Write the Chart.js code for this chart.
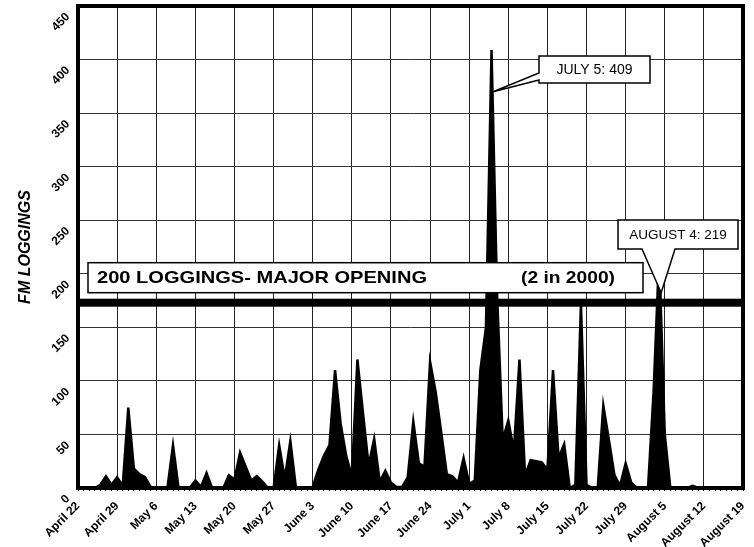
<!DOCTYPE html>
<html><head><meta charset="utf-8">
<script src="https://cdn.jsdelivr.net/npm/chart.js@4.4.1/dist/chart.umd.min.js"></script>
<style>html,body{margin:0;padding:0;background:#fff}#wrap{width:754px;height:547px}</style>
</head><body><div id="wrap"><canvas id="c" width="754" height="547"></canvas></div>
<script>
// Daily FM loggings, April 22 .. August 19, 2000 (120 days)
const START_DATE = [2000, 3, 22];
const loggings = [
  0, 0, 0, 0, 3, 11, 3, 10, 2, 75,          // Apr 22 - May 1
  18, 13, 10, 1, 0, 0, 0, 40, 0, 0,         // May 2 - May 11
  0, 7, 1, 14, 0, 0, 0, 12, 8, 33,          // May 12 - May 21
  20, 7, 11, 6, 0, 0, 40, 9, 44, 0,         // May 22 - May 31
  0, 0, 1, 17, 30, 40, 110, 60, 30, 11,     // Jun 1 - Jun 10
  120, 70, 21, 46, 6, 16, 5, 1, 1, 10,      // Jun 11 - Jun 20
  62, 23, 20, 118, 90, 52, 13, 11, 5, 28,   // Jun 21 - Jun 30
  4, 7, 110, 150, 409, 180, 45, 63, 35, 120,// Jul 1 - Jul 10
  12, 26, 25, 24, 17, 110, 28, 41, 0, 3,    // Jul 11 - Jul 20
  172, 3, 0, 0, 77, 45, 12, 2, 23, 5,       // Jul 21 - Jul 30
  0, 0, 0, 90, 219, 50, 0, 0, 0, 0,         // Jul 31 - Aug 9
  2, 0, 0, 0, 0, 0, 0, 0, 0, 0              // Aug 10 - Aug 19
];
const tickLabels = ['April 22','April 29','May 6','May 13','May 20','May 27','June 3','June 10',
  'June 17','June 24','July 1','July 8','July 15','July 22','July 29','August 5','August 12','August 19'];
const yMin = 0, yMax = 450, yStep = 50;
const MAJOR_LEVEL = 173;
const majorText = '200 LOGGINGS- MAJOR OPENING';
const majorCount = '(2 in 2000)';
const peakJuly = { day: 74, tipValue: 370, text: 'JULY 5: 409' };
const peakAug = { day: 104, text: 'AUGUST 4: 219' };

const SANS = "'Liberation Sans', Arial, sans-serif";

const categories = loggings.map((_, i) => {
  const d = new Date(START_DATE[0], START_DATE[1], START_DATE[2] + i);
  return d.toDateString();
});

function stretchText(ctx, text, x, y, targetW, align) {
  const w = ctx.measureText(text).width;
  const sx = targetW / w;
  ctx.save();
  ctx.textAlign = 'left';
  ctx.translate(align === 'right' ? x - targetW : x, y);
  ctx.scale(sx, 1);
  ctx.fillText(text, 0, 0);
  ctx.restore();
}

const overlay = {
  id: 'overlay',
  afterDatasetsDraw(chart) {
    const { ctx, chartArea: a, scales: { x, y } } = chart;
    ctx.save();
    // thick major-opening line
    const ly = y.getPixelForValue(MAJOR_LEVEL);
    ctx.fillStyle = '#000';
    ctx.fillRect(a.left, ly - 4, a.right - a.left, 8);

    // major opening label box
    const bx0 = a.left + 10, bx1 = 643, by1 = ly - 10, by0 = by1 - 30;
    ctx.fillStyle = '#fff';
    ctx.fillRect(bx0, by0, bx1 - bx0, by1 - by0);
    ctx.lineWidth = 1.5; ctx.strokeStyle = '#000';
    ctx.strokeRect(bx0, by0, bx1 - bx0, by1 - by0);
    ctx.fillStyle = '#000';
    ctx.font = "bold 17px " + SANS;
    ctx.textBaseline = 'middle';
    stretchText(ctx, majorText, bx0 + 9, (by0 + by1) / 2 + 1, 330, 'left');
    stretchText(ctx, majorCount, bx1 - 28, (by0 + by1) / 2 + 1, 94, 'right');

    // July 5 callout
    const jx = x.getPixelForValue(peakJuly.day) + 1.5, jy = y.getPixelForValue(peakJuly.tipValue);
    const c0 = 539, c1 = 650, t0 = 56, t1 = 83;
    ctx.beginPath();
    ctx.moveTo(c0, t0); ctx.lineTo(c1, t0); ctx.lineTo(c1, t1); ctx.lineTo(c0, t1);
    ctx.lineTo(c0, t1 - 3); ctx.lineTo(jx, jy); ctx.lineTo(c0, t1 - 10); ctx.closePath();
    ctx.fillStyle = '#fff'; ctx.fill();
    ctx.lineWidth = 1.5; ctx.stroke();
    ctx.fillStyle = '#000';
    ctx.font = "14px " + SANS;
    ctx.textAlign = 'center';
    ctx.fillText(peakJuly.text, (c0 + c1) / 2, (t0 + t1) / 2 + 1);

    // August 4 callout
    const ax = x.getPixelForValue(peakAug.day) + 2, ay = ly - 10;
    const d0 = 618, d1 = 738, u0 = 220, u1 = 249;
    ctx.beginPath();
    ctx.moveTo(d0, u0); ctx.lineTo(d1, u0); ctx.lineTo(d1, u1); ctx.lineTo(675, u1);
    ctx.lineTo(ax, ay); ctx.lineTo(642, u1); ctx.lineTo(d0, u1); ctx.closePath();
    ctx.fillStyle = '#fff'; ctx.fill();
    ctx.lineWidth = 1.5; ctx.stroke();
    ctx.fillStyle = '#000';
    ctx.font = "13.5px " + SANS;
    ctx.fillText(peakAug.text, (d0 + d1) / 2, (u0 + u1) / 2 + 1);
    ctx.restore();
  },
  afterDraw(chart) {
    const { ctx, chartArea: a } = chart;
    ctx.save();
    ctx.lineWidth = 4; ctx.strokeStyle = '#000';
    ctx.strokeRect(a.left, a.top, a.right - a.left, a.bottom - a.top);
    ctx.restore();
  }
};

new Chart(document.getElementById('c'), {
  type: 'line',
  data: {
    labels: categories,
    datasets: [{
      data: loggings,
      fill: 'origin',
      backgroundColor: '#000',
      borderColor: '#000',
      borderWidth: 2.5,
      borderJoinStyle: 'miter',
      pointRadius: 0,
      tension: 0
    }]
  },
  options: {
    responsive: false,
    animation: false,
    devicePixelRatio: 1,
    layout: { padding: { top: 6, right: 11, left: 0, bottom: 0 } },
    plugins: { legend: { display: false }, tooltip: { enabled: false } },
    scales: {
      x: {
        offset: false,
        grid: {
          color: (c) => (c.index % 7 === 0 ? '#222' : 'rgba(0,0,0,0)'),
          tickColor: '#000',
          tickLength: 3,
          lineWidth: 1
        },
        border: { display: false },
        ticks: {
          autoSkip: false,
          minRotation: 45,
          maxRotation: 45,
          padding: 8,
          color: '#000',
          font: { family: SANS, size: 12, weight: 'bold' },
          callback: (v, i) => (i % 7 === 0 ? tickLabels[i / 7] : '')
        },
        afterFit: (s) => { s.height = 59; s.paddingLeft = 0; s.paddingRight = 0; }
      },
      y: {
        min: yMin, max: yMax,
        grid: { color: '#333', lineWidth: 1, drawTicks: false },
        border: { display: false },
        ticks: {
          stepSize: yStep,
          minRotation: 45,
          maxRotation: 45,
          padding: 10,
          labelOffset: 9,
          color: '#000',
          font: { family: SANS, size: 12, weight: 'bold' }
        },
        title: {
          display: true,
          text: 'FM LOGGINGS',
          color: '#000',
          font: { family: SANS, size: 16, weight: 'bold', style: 'italic' },
          padding: { top: 16, bottom: 0 }
        },
        afterFit: (s) => { s.width = 78; s.paddingTop = 0; s.paddingBottom = 0; }
      }
    }
  },
  plugins: [overlay]
});
</script>
</body></html>
